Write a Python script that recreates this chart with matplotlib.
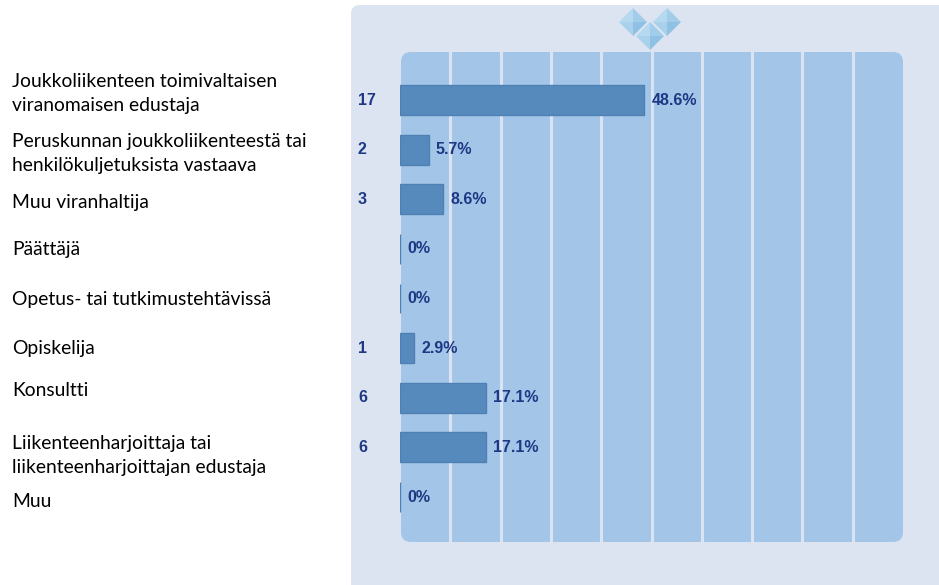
import matplotlib
matplotlib.use('Agg')
from matplotlib import pyplot as plt
from matplotlib import transforms
from matplotlib.patches import FancyBboxPatch, Polygon

#answer options, top to bottom
labels = [
    "Joukkoliikenteen toimivaltaisen\nviranomaisen edustaja",
    "Peruskunnan joukkoliikenteestä tai\nhenkilökuljetuksista vastaava",
    "Muu viranhaltija",
    "Päättäjä",
    "Opetus- tai tutkimustehtävissä",
    "Opiskelija",
    "Konsultti",
    "Liikenteenharjoittaja tai\nliikenteenharjoittajan edustaja",
    "Muu",
]
counts = [17, 2, 3, 0, 0, 1, 6, 6, 0]
total = 35

W, H = 939, 585
navy = '#1e3884'

#labels don't sit exactly on the rows (pixels, + is down)
label_shift = [-7, 4, 3, 1, 1, 0, -7, 8, 4]

#percent of all answers
pcts = [100.0 * c / total for c in counts]

fig = plt.figure(figsize=(W / 100, H / 100), dpi=100)
fig.patch.set_facecolor('white')

#pixel coords (origin top left) -> figure fraction
def fx(x):
    return x / W

def fy(y):
    return 1 - y / H

px = transforms.IdentityTransform()

#grey-blue panel behind the chart
panel = FancyBboxPatch((351, -20), 620, H - 5 + 20,
                       boxstyle='round,pad=0,rounding_size=9',
                       transform=px, facecolor='#dce3f1', edgecolor='none', zorder=-2)
fig.add_artist(panel)

#light blue plot area
inner = FancyBboxPatch((401, H - 542), 903 - 401, 542 - 52,
                       boxstyle='round,pad=0,rounding_size=10',
                       transform=px, facecolor='#a3c6e8', edgecolor='none', zorder=-1)
fig.add_artist(inner)

#little diamond logo on top
shades = ['#b5d9ef', '#a2cdea', '#8fc1e4', '#a9d1ec']
for cx, cy in [(633, 22), (667, 22), (650, 36)]:
    top = (cx, H - (cy - 14))
    right = (cx + 14, H - cy)
    bot = (cx, H - (cy + 14))
    left = (cx - 14, H - cy)
    mid = (cx, H - cy)
    tris = [[left, top, mid], [top, right, mid], [right, bot, mid], [bot, left, mid]]
    for tri, col in zip(tris, shades):
        fig.add_artist(Polygon(tri, closed=True, transform=px, facecolor=col,
                               edgecolor='none', zorder=-1))

#plot axes sits on the inner area
row = (497 - 100) / 8.0
ax = fig.add_axes([fx(400), fy(542), fx(903) - fx(400), fy(52) - fy(542)])
ax.patch.set_visible(False)
ax.set_xlim(0, 100)
ax.set_ylim(8 + (542 - 497) / row, -(100 - 52) / row)

ax.set_xticks(range(10, 100, 10))
ax.set_yticks([])
ax.tick_params(axis='x', length=0, labelbottom=False)
ax.grid(axis='x', color='#dae3f2', lw=2.2, zorder=1)
ax.set_axisbelow(True)
for s in ax.spines.values():
    s.set_visible(False)

y = list(range(len(counts)))
ax.barh(y, pcts, height=0.6, color='#5689bc', edgecolor='#4f80b3', lw=1.0, zorder=3)

blend = transforms.blended_transform_factory(fig.transFigure, ax.transData)

for i in y:
    #question label on the left
    ax.text(fx(12), i + label_shift[i] / row, labels[i], transform=blend,
            ha='left', va='center', fontfamily='Lato', fontsize=13.9,
            color='black', linespacing=1.5)
    #count
    if counts[i] > 0:
        ax.text(fx(358), i, str(counts[i]), transform=blend, ha='left', va='center',
                fontfamily='Liberation Sans', fontweight='bold', fontsize=11.5, color=navy)
    #percent after the bar
    if counts[i] > 0:
        txt = '%.1f%%' % pcts[i]
    else:
        txt = '0%'
    ax.annotate(txt, (pcts[i], i), xytext=(5, 0), textcoords='offset points',
                ha='left', va='center', fontfamily='Liberation Sans',
                fontweight='bold', fontsize=11.5, color=navy, zorder=4)

fig.savefig('out.png', dpi=100)
